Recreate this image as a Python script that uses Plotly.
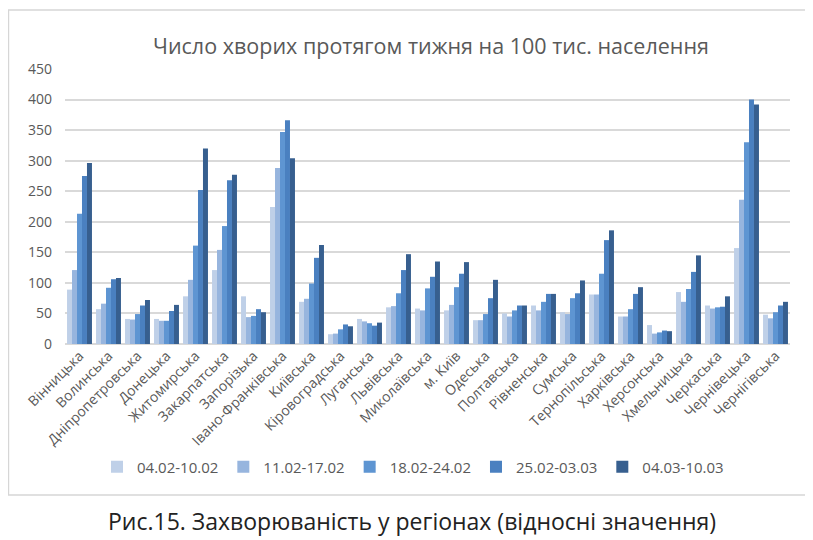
import plotly.graph_objects as go

regions = [
    "Вінницька", "Волинська", "Дніпропетровська", "Донецька", "Житомирська",
    "Закарпатська", "Запорізька", "Івано-Франківська", "Київська", "Кіровоградська",
    "Луганська", "Львівська", "Миколаївська", "м. Київ", "Одеська",
    "Полтавська", "Рівненська", "Сумська", "Тернопільська", "Харківська",
    "Херсонська", "Хмельницька", "Черкаська", "Чернівецька", "Чернігівська",
]

weeks = ["04.02-10.02", "11.02-17.02", "18.02-24.02", "25.02-03.03", "04.03-10.03"]

w1 = [89, 57, 41, 41, 78, 121, 78, 224, 69, 16, 41, 60, 58, 55, 39, 50, 63, 52, 81, 45, 31, 85, 63, 157, 48]
w2 = [121, 66, 40, 38, 105, 154, 44, 288, 74, 17, 37, 62, 55, 64, 39, 45, 55, 49, 81, 45, 17, 69, 58, 236, 42]
w3 = [213, 92, 49, 38, 161, 193, 46, 347, 99, 24, 34, 83, 91, 93, 49, 55, 69, 75, 115, 57, 19, 90, 60, 330, 52]
w4 = [275, 106, 63, 54, 252, 268, 57, 366, 141, 32, 30, 121, 110, 115, 75, 63, 82, 83, 170, 82, 22, 118, 61, 400, 63]
w5 = [296, 108, 72, 64, 320, 277, 52, 304, 162, 29, 35, 147, 135, 134, 105, 63, 82, 104, 186, 93, 21, 145, 78, 392, 69]

series = [w1, w2, w3, w4, w5]
colors = ["#BFD0E8", "#97B5DE", "#5E95D2", "#4A80C0", "#375F8F"]

fig = go.Figure()
for name, vals, col in zip(weeks, series, colors):
    fig.add_trace(go.Bar(x=regions, y=vals, name=name, marker_color=col,
                         marker_line_width=0))

grey = "#595959"
# page body has an 8px margin, so the figure is a bit smaller than the window
fig.update_layout(
    width=805, height=532,
    paper_bgcolor="white", plot_bgcolor="white",
    margin=dict(l=57, r=23, t=61, b=196),
    barmode="group", bargap=0.14, bargroupgap=0,
    font=dict(family="Open Sans", color=grey),
    showlegend=True,
    legend=dict(orientation="h", x=0.48, xanchor="center", y=-0.447, yanchor="middle",
                font=dict(size=15, color=grey), itemwidth=30,
                traceorder="normal"),
    xaxis=dict(tickangle=-45, tickfont=dict(size=14, color=grey), showline=False,
               ticks="", automargin=False),
    yaxis=dict(range=[0, 450], dtick=50, gridcolor="#d9d9d9", gridwidth=1.5,
               tickfont=dict(size=14, color=grey), zeroline=True,
               zerolinecolor="#d9d9d9", ticklabelstandoff=12, automargin=False),
)

# chart frame
fig.add_shape(type="rect", xref="paper", yref="paper",
              x0=-0.078, x1=1.022, y0=-0.549, y1=1.2145,
              line=dict(color="#d6d6d6", width=1.5), fillcolor="rgba(0,0,0,0)")

fig.add_annotation(text="Число хворих протягом тижня на 100 тис. населення",
                   xref="paper", yref="paper", x=0.505, y=1.084, yanchor="middle",
                   showarrow=False, font=dict(size=21.5, color=grey, family="Open Sans"))

fig.add_annotation(text="Рис.15. Захворюваність у регіонах (відносні значення)",
                   xref="paper", yref="paper", x=0.478, y=-0.644, yanchor="middle",
                   showarrow=False, font=dict(size=23, color="#222222", family="Open Sans"))

fig.write_html("out.html")
